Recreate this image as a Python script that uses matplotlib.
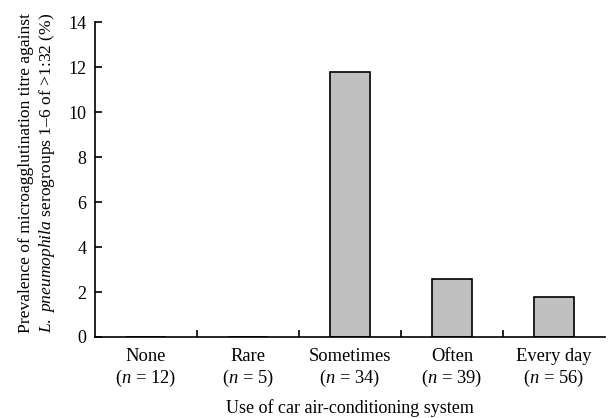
import matplotlib
matplotlib.use("Agg")
import matplotlib.pyplot as plt
import numpy as np

categories = ["None", "Rare", "Sometimes", "Often", "Every day"]
n_values = [12, 5, 34, 39, 56]
prevalence = [0.0, 0.0, 11.8, 2.6, 1.8]
y_ticks = [0, 2, 4, 6, 8, 10, 12, 14]

plt.rcParams['font.family'] = ['Liberation Serif']
plt.rcParams['mathtext.fontset'] = 'custom'
plt.rcParams['mathtext.rm'] = 'Liberation Serif'
plt.rcParams['mathtext.it'] = 'Liberation Serif:italic'

fig = plt.figure(figsize=(6.1, 4.18), dpi=100)
ax = fig.add_axes([0.1557, 0.1938, 0.836, 0.753])

x = np.arange(len(categories))
ax.bar(x, prevalence, width=0.4, color="#c0c0c0", edgecolor="black", linewidth=1.2)

ax.set_xlim(-0.5, len(categories) - 0.5)
ax.set_ylim(0, 14)
ax.set_yticks(y_ticks)
ax.set_yticklabels([str(v) for v in y_ticks], fontsize=13)

labels = [f"{c}\n($\\it{{n}}$ = {n})" for c, n in zip(categories, n_values)]
ax.set_xticks(x)
ax.set_xticklabels(labels, fontsize=13.3, linespacing=1.2)
ax.set_xticks(np.arange(len(categories) - 1) + 0.5, minor=True)
ax.tick_params(axis='x', which='major', length=0, pad=8)
ax.tick_params(axis='x', which='minor', direction='in', length=5, width=1.2)
ax.tick_params(axis='y', direction='in', length=5, width=1.2, pad=6)

for s in ['top', 'right']:
    ax.spines[s].set_visible(False)
for s in ['left', 'bottom']:
    ax.spines[s].set_linewidth(1.2)

ax.set_xlabel("Use of car air-conditioning system", fontsize=13, labelpad=7)
ax.set_ylabel("Prevalence of microagglutination titre against\n"
              "$\\it{L.\\ pneumophila}$ serogroups 1–6 of >1:32 (%)",
              fontsize=12.6, labelpad=8, linespacing=1.22)
ax.yaxis.label.set_y(0.52)

fig.savefig("out.png", dpi=100)
